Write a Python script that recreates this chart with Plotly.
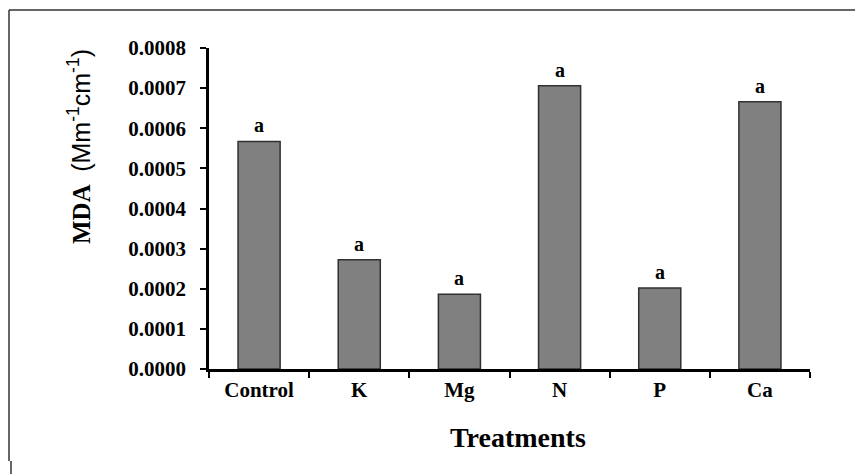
import plotly.graph_objects as go

categories = ["Control", "K", "Mg", "N", "P", "Ca"]
mda_values = [0.000567, 0.000272, 0.000186, 0.000706, 0.000202, 0.000666]
letters = ["a", "a", "a", "a", "a", "a"]
y_ticks = [0.0, 0.0001, 0.0002, 0.0003, 0.0004, 0.0005, 0.0006, 0.0007, 0.0008]

W, H = 855, 474
L, R, T, B = 209, 810, 48, 369

def px(x):
    return (x - L) / (R - L)

def py(y):
    return (B - y) / (B - T)

serif = "Liberation Serif"

fig = go.Figure()
fig.add_trace(go.Bar(
    x=categories, y=mda_values, width=0.42,
    marker=dict(color="#808080", line=dict(color="#303030", width=1.5)),
    hoverinfo="x+y",
))

for c, v, t in zip(categories, mda_values, letters):
    fig.add_annotation(x=c, y=v, text=t, showarrow=False, yshift=16,
                       yanchor="middle",
                       font=dict(family=serif, size=20, color="#000", weight="bold"))

fig.add_annotation(xref="paper", yref="paper", x=px(518), y=py(437),
                   xanchor="center", yanchor="middle",
                   text="Treatments", showarrow=False,
                   font=dict(family=serif, size=28, color="#000", weight="bold"))
fig.add_annotation(xref="paper", yref="paper", x=px(79), y=py(147),
                   xanchor="center", yanchor="middle",
                   text="<b>MDA</b>  <span style=\"font-family:'Liberation Sans'\">(Mm<sup>-1</sup>cm<sup>-1</sup>)</span>",
                   textangle=-90, showarrow=False,
                   font=dict(family=serif, size=25, color="#000"))

# outer frame
line = dict(color="#333", width=1.5)
fig.add_shape(type="line", xref="paper", yref="paper", x0=px(9), x1=px(856), y0=py(10), y1=py(10), line=line)
fig.add_shape(type="line", xref="paper", yref="paper", x0=px(9), x1=px(9), y0=py(10), y1=py(461), line=line)
fig.add_shape(type="line", xref="paper", yref="paper", x0=px(11), x1=px(11), y0=py(461), y1=py(475), line=line)

fig.update_layout(
    width=W, height=H,
    margin=dict(l=L, r=W - R, t=T, b=H - B),
    plot_bgcolor="white", paper_bgcolor="white",
    showlegend=False,
    xaxis=dict(
        type="category", range=[-0.5, 5.5],
        showline=True, linecolor="#000", linewidth=2.5,
        ticks="outside", tickson="boundaries", ticklen=6, tickwidth=2, tickcolor="#000",
        showgrid=False,
        tickfont=dict(family=serif, size=21, color="#000", weight="bold"),
    ),
    yaxis=dict(
        range=[0, 0.0008], tickvals=y_ticks, tickformat=".4f",
        showline=True, linecolor="#000", linewidth=2.5,
        ticks="outside", ticklen=6, tickwidth=2, tickcolor="#000",
        ticklabelstandoff=10,
        showgrid=False, zeroline=False,
        tickfont=dict(family=serif, size=21, color="#000", weight="bold"),
    ),
)

fig.write_html("out.html")
